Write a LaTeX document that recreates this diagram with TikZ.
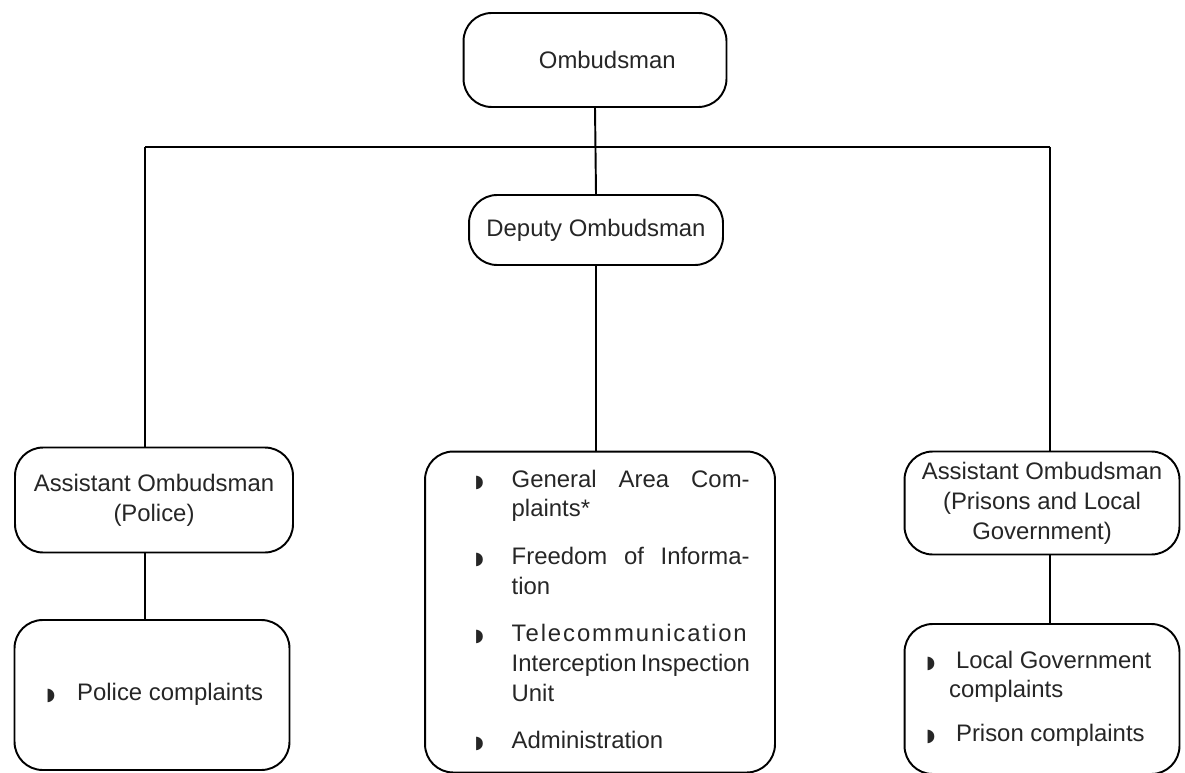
\documentclass[tikz,border=0pt]{standalone}
\usepackage{fontspec}
\setmainfont{Liberation Sans}
\newfontfamily\symfont{DejaVu Sans}
\newcommand{\bul}{{\symfont\fontsize{10}{10}\selectfont ◗}}

\begin{document}
\begin{tikzpicture}[x=0.02cm, y=-0.02cm,
	every node/.style={font=\fontsize{13.6}{17}\selectfont, text=black!85},
	box/.style={draw, line width=1.1pt, rounded corners=16pt, align=center},
	link/.style={line width=1.1pt}]
\useasboundingbox (0,0) rectangle (1185,773);

\node[box, minimum width=5.26cm, minimum height=1.88cm] (omb) at (595,60) {\hspace*{14pt}Ombudsman};
\node[box, minimum width=5.08cm, minimum height=1.4cm] (dep) at (596,230) {Deputy Ombudsman};

\node[box, minimum width=5.56cm, minimum height=2.1cm] (aspol) at (154,500) {Assistant Ombudsman\\(Police)};
\node[box, minimum width=5.5cm, minimum height=3cm] (polc) at (152,695) {
	\begin{tabular}{@{\hspace*{0.24cm}}p{0.62cm}@{}l@{}}
	\bul & Police complaints
	\end{tabular}
};

\node[box, minimum width=7cm, minimum height=6.42cm] (mid) at (600,612) {
	\begin{tabular}{@{\hspace*{0.62cm}}p{0.74cm}@{}p{4.76cm}@{}}
	\bul & \makebox[\linewidth][s]{General Area Com-}\\
	     & plaints*\\[10pt]
	\bul & \makebox[\linewidth][s]{Freedom of Informa-}\\
	     & tion\\[10pt]
	\bul & {\addfontfeature{LetterSpace=8}Telecommunication}\\
	     & \makebox[\linewidth][s]{Interception Inspection}\\
	     & Unit\\[10pt]
	\bul & Administration
	\end{tabular}
};

\node[box, minimum width=5.5cm, minimum height=2.06cm] (aspr) at (1042,503) {Assistant Ombudsman\\(Prisons and Local\\Government)};
\node[box, minimum width=5.5cm, minimum height=3cm] (prc) at (1042,699) {
	\begin{tabular}{@{}p{0.6cm}@{}l@{}}
	\bul & Local Government\\
	     & \hspace*{-0.14cm}complaints\\[8pt]
	\bul & Prison complaints
	\end{tabular}
};

% bus line under the Ombudsman
\coordinate (busL) at (145,147);
\coordinate (busR) at (1050,147);

\draw[link] (omb.south) -- (dep.north);
\draw[link] (busL) -- (busR);
\draw[link] (busL) -- (busL |- aspol.north);
\draw[link] (busR) -- (busR |- aspr.north);
\draw[link] (dep.south) -- (dep.south |- mid.north);
\draw[link] (aspol.south -| busL) -- (polc.north -| busL);
\draw[link] (aspr.south -| busR) -- (prc.north -| busR);
\end{tikzpicture}
\end{document}
